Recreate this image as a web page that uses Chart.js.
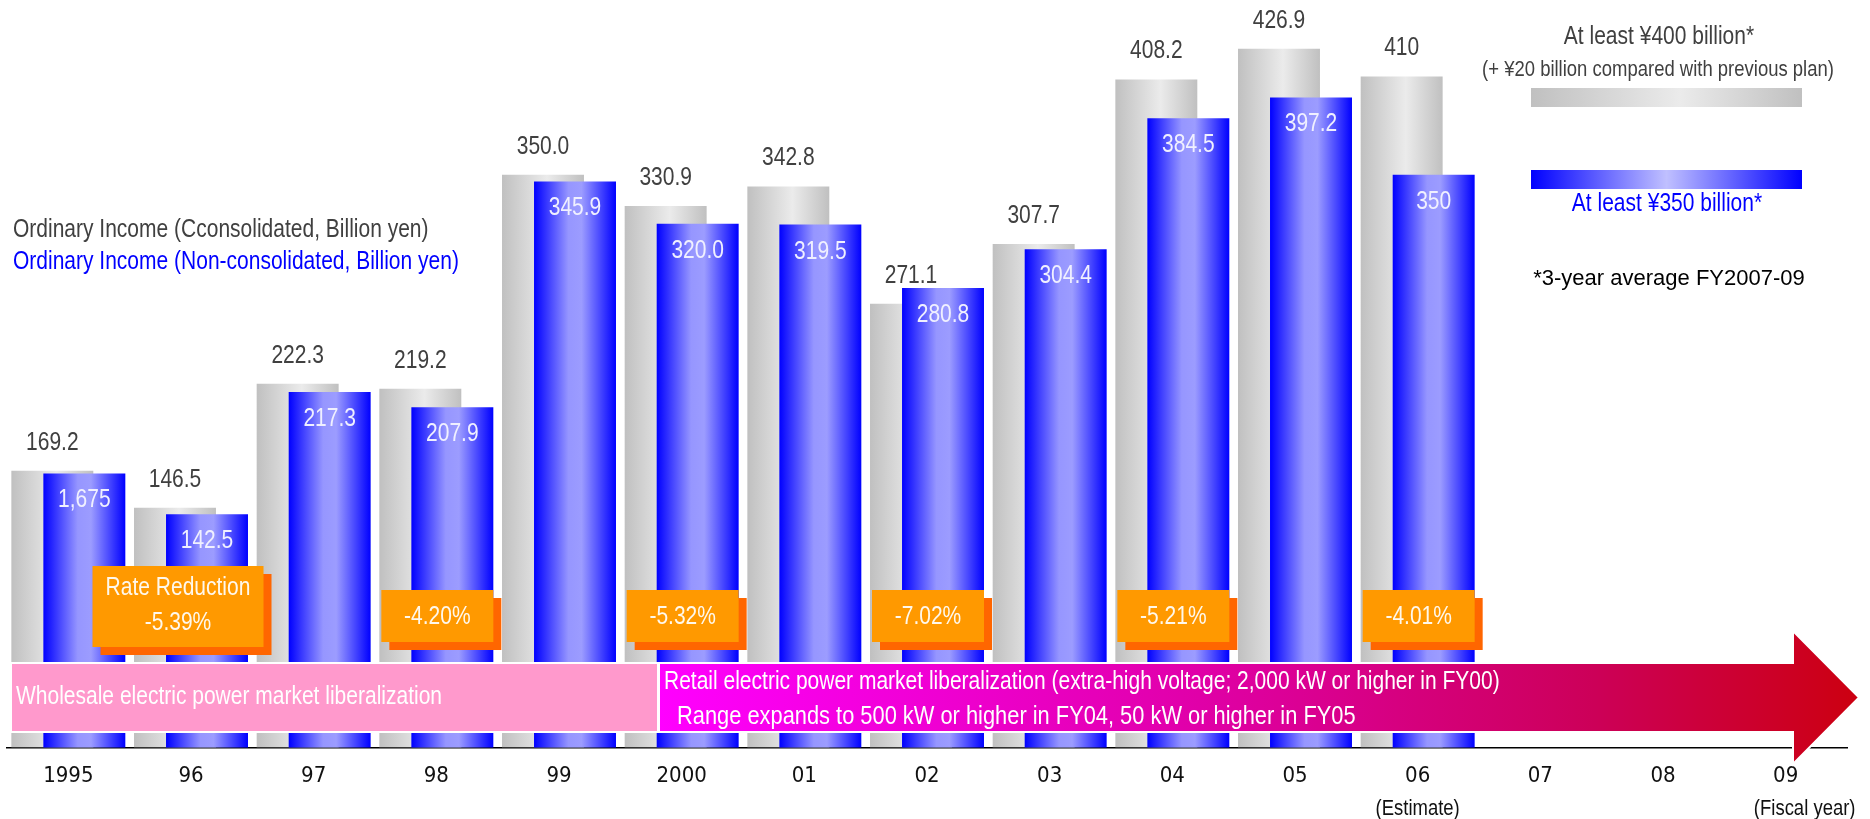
<!DOCTYPE html>
<html>
<head>
<meta charset="utf-8">
<script src="https://cdn.jsdelivr.net/npm/chart.js@4.4.0/dist/chart.umd.min.js"></script>
<style>
  html, body { margin: 0; padding: 0; background: #fff; overflow: hidden; }
</style>
</head>
<body>
<canvas id="incomeChart" width="1870" height="819"></canvas>
<script>
// fiscal years and ordinary income (billion yen)
var years = ['1995', '96', '97', '98', '99', '2000', '01', '02', '03', '04', '05', '06', '07', '08', '09'];
var consolidated = [169.2, 146.5, 222.3, 219.2, 350.0, 330.9, 342.8, 271.1, 307.7, 408.2, 426.9, 410, null, null, null];
var nonConsolidated = [167.5, 142.5, 217.3, 207.9, 345.9, 320.0, 319.5, 280.8, 304.4, 384.5, 397.2, 350, null, null, null];
// labels as printed on the slide
var consolidatedText = ['169.2', '146.5', '222.3', '219.2', '350.0', '330.9', '342.8', '271.1', '307.7', '408.2', '426.9', '410'];
var nonConsolidatedText = ['1,675', '142.5', '217.3', '207.9', '345.9', '320.0', '319.5', '280.8', '304.4', '384.5', '397.2', '350'];
// electricity rate reductions
var rateCutYears = ['96', '98', '2000', '02', '04', '06'];
var rateCuts = ['-5.39%', '-4.20%', '-5.32%', '-7.02%', '-5.21%', '-4.01%'];
var yMax = 450;

var CAT_PCT = 0.522;
var BAR_PCT = 2.56;

// is the narrow face there?
var probe = document.createElement('canvas').getContext('2d');
probe.font = '20px monospace';
var w1 = probe.measureText('abcdefghij 0123').width;
probe.font = '20px "Liberation Sans Narrow", monospace';
var w2 = probe.measureText('abcdefghij 0123').width;
var hasNarrow = Math.abs(w1 - w2) > 0.5;
var NARROW = '"Liberation Sans Narrow", "Arial Narrow", sans-serif';
var REG = '"Liberation Sans", Arial, sans-serif';

function txt(ctx, s, x, y, size, color, align, narrow) {
  ctx.save();
  ctx.fillStyle = color;
  ctx.textAlign = align || 'center';
  ctx.textBaseline = 'middle';
  ctx.translate(x, y);
  if (narrow && !hasNarrow) {
    ctx.font = size + 'px ' + REG;
    ctx.scale(0.84, 1);
  } else {
    ctx.font = size + 'px ' + (narrow ? NARROW : REG);
  }
  ctx.fillText(s, 0, 0);
  ctx.restore();
}

function barFill(stops) {
  return function(c) {
    var chart = c.chart;
    var xs = chart.scales && chart.scales.x;
    if (!xs || c.type !== 'data') return stops[0][1];
    var catW = xs.width / years.length;
    var chunk = catW * CAT_PCT / 2;
    var size = chunk * BAR_PCT;
    var cx = xs.getPixelForValue(c.dataIndex) + (c.datasetIndex - 0.5) * chunk;
    if (!isFinite(cx) || !isFinite(size) || size <= 0) return stops[0][1];
    var g = chart.ctx.createLinearGradient(cx - size / 2, 0, cx + size / 2, 0);
    stops.forEach(function(s) { g.addColorStop(s[0], s[1]); });
    return g;
  };
}

var grayStops = [[0, '#c0c0c0'], [0.55, '#ebebeb'], [1, '#c0c0c0']];
var blueStops = [[0, '#0000ff'], [0.42, '#9696ff'], [0.58, '#9c9cff'], [1, '#0000ff']];

var manual = false;
var overlay = {
  id: 'overlay',
  beforeDatasetDraw: function(chart, args) {
    // blue bars go over the grey ones, drawn below
    if (args.index === 1 && !manual) return false;
  },
  afterDatasetsDraw: function(chart) {
    var ctx = chart.ctx;
    var xs = chart.scales.x;
    manual = true;
    chart.getDatasetMeta(1).controller.draw();
    manual = false;

    // value labels
    chart.getDatasetMeta(0).data.forEach(function(el, i) {
      if (consolidated[i] == null) return;
      txt(ctx, consolidatedText[i], el.x, el.y - 28, 25, '#404040', 'center', true);
    });
    chart.getDatasetMeta(1).data.forEach(function(el, i) {
      if (nonConsolidated[i] == null) return;
      txt(ctx, nonConsolidatedText[i], el.x, el.y + 27, 25, '#f0f0ff', 'center', true);
    });

    // rate reduction boxes
    rateCuts.forEach(function(r, i) {
      var px = xs.getPixelForValue(years.indexOf(rateCutYears[i]));
      var w, h, top, cx;
      if (i === 0) { w = 171; h = 81; top = 566; cx = px - 13; }
      else { w = 112; h = 52; top = 590; cx = px + 1; }
      ctx.fillStyle = '#ff6600';
      ctx.fillRect(cx - w / 2 + 8, top + 8, w, h);
      ctx.fillStyle = '#ff9900';
      ctx.fillRect(cx - w / 2, top, w, h);
      if (i === 0) {
        txt(ctx, 'Rate Reduction', cx, top + 22, 25, '#fff8ec', 'center', true);
        txt(ctx, r, cx, top + 57, 25, '#fff8ec', 'center', true);
      } else {
        txt(ctx, r, cx, top + h / 2 + 1, 25, '#fff8ec', 'center', true);
      }
    });

    // liberalization band
    var bTop = 663, bBot = 732;
    ctx.save();
    ctx.lineWidth = 2;
    ctx.strokeStyle = '#ffffff';
    ctx.fillStyle = '#ff99cc';
    ctx.fillRect(11, bTop, 647, bBot - bTop);
    ctx.strokeRect(11, bTop, 647, bBot - bTop);
    var ax0 = 659, head = 1793, tip = 1859, mid = (bTop + bBot) / 2;
    var g = ctx.createLinearGradient(ax0, 0, tip, 0);
    g.addColorStop(0, '#ff00ff');
    g.addColorStop(0.45, '#e000a8');
    g.addColorStop(0.78, '#cc0058');
    g.addColorStop(1, '#cc0010');
    ctx.beginPath();
    ctx.moveTo(ax0, bTop);
    ctx.lineTo(head, bTop);
    ctx.lineTo(head, 631);
    ctx.lineTo(tip, mid);
    ctx.lineTo(head, 764);
    ctx.lineTo(head, bBot);
    ctx.lineTo(ax0, bBot);
    ctx.closePath();
    ctx.fillStyle = g;
    ctx.fill();
    ctx.stroke();
    ctx.restore();
    txt(ctx, 'Wholesale electric power market liberalization', 16, 697, 25, '#ffffff', 'left', true);
    txt(ctx, 'Retail electric power market liberalization (extra-high voltage; 2,000 kW or higher in FY00)', 664, 682, 25, '#ffffff', 'left', true);
    txt(ctx, 'Range expands to 500 kW or higher in FY04, 50 kW or higher in FY05', 677, 717, 26, '#ffffff', 'left', true);

    // axis notes
    txt(ctx, '(Estimate)', xs.getPixelForValue(11), 809, 22, '#111111', 'center', true);
    txt(ctx, '(Fiscal year)', xs.getPixelForValue(14) + 19, 809, 22, '#111111', 'center', true);

    // left legend
    txt(ctx, 'Ordinary Income (Cconsolidated, Billion yen)', 13, 230, 25, '#404040', 'left', true);
    txt(ctx, 'Ordinary Income (Non-consolidated, Billion yen)', 13, 262, 25, '#0000ff', 'left', true);

    // right legend
    txt(ctx, 'At least \u00a5400 billion*', 1659, 37, 25, '#404040', 'center', true);
    txt(ctx, '(+ \u00a520 billion compared with previous plan)', 1658, 70, 22, '#404040', 'center', true);
    var gg = ctx.createLinearGradient(1531, 0, 1802, 0);
    grayStops.forEach(function(s) { gg.addColorStop(s[0], s[1]); });
    ctx.fillStyle = gg;
    ctx.fillRect(1531, 88, 271, 19);
    var bg = ctx.createLinearGradient(1531, 0, 1802, 0);
    bg.addColorStop(0, '#0000ff');
    bg.addColorStop(0.5, '#c0c0ff');
    bg.addColorStop(1, '#0000ff');
    ctx.fillStyle = bg;
    ctx.fillRect(1531, 170, 271, 19);
    txt(ctx, 'At least \u00a5350 billion*', 1667, 204, 25, '#0000ff', 'center', true);
    txt(ctx, '*3-year average FY2007-09', 1669, 279, 22, '#000000', 'center', false);
  }
};

var chart = new Chart(document.getElementById('incomeChart').getContext('2d'), {
  type: 'bar',
  data: {
    labels: years,
    datasets: [{
      label: 'Ordinary Income (Consolidated)',
      data: consolidated,
      backgroundColor: barFill(grayStops),
      borderWidth: 0
    }, {
      label: 'Ordinary Income (Non-consolidated)',
      data: nonConsolidated,
      backgroundColor: barFill(blueStops),
      borderWidth: 0
    }]
  },
  options: {
    responsive: false,
    animation: false,
    categoryPercentage: CAT_PCT,
    barPercentage: BAR_PCT,
    layout: { padding: { left: 7, right: 23, top: 11, bottom: 15 } },
    plugins: { legend: { display: false }, tooltip: { enabled: false } },
    scales: {
      x: {
        grid: { display: false, drawTicks: false },
        border: { display: true, color: '#000000', width: 1.5 },
        ticks: {
          padding: 15,
          color: '#111111',
          font: { family: hasNarrow ? NARROW : '"DejaVu Sans Condensed", sans-serif', size: 22 },
          maxRotation: 0,
          autoSkip: false
        }
      },
      y: {
        display: false,
        min: 0,
        max: yMax
      }
    }
  },
  plugins: [overlay]
});
chart.update();
</script>
</body>
</html>
